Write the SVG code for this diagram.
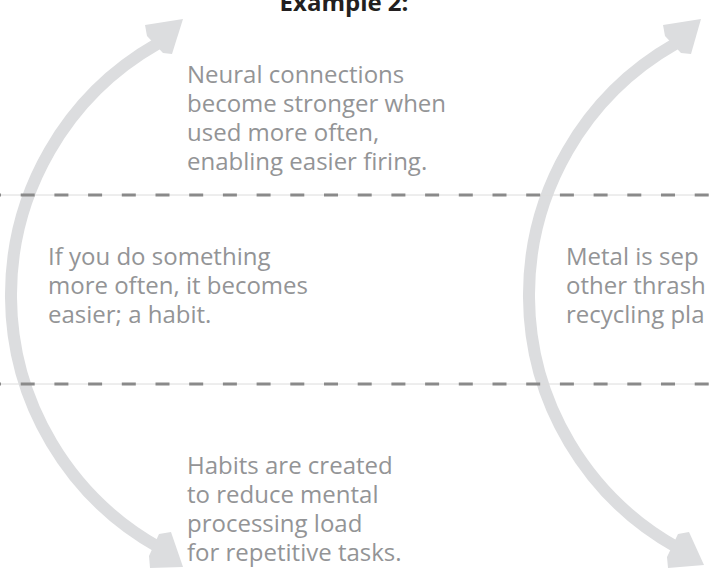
<svg xmlns="http://www.w3.org/2000/svg" width="709" height="582" viewBox="0 0 709 582">
<style>
.t{font-family:"Open Sans","Noto Sans","Liberation Sans",sans-serif;font-size:24px;fill:#939496}
.title{font-family:"Open Sans","Noto Sans","Liberation Sans",sans-serif;font-size:24px;font-weight:700;fill:#231f20}
.arc{fill:none;stroke:#dcdddf;stroke-width:12}
.head{fill:#dcdddf}
.base{stroke:#dcdcdc;stroke-width:1}
.dash{stroke:#8a8a8a;stroke-width:3;stroke-dasharray:14 19.7;stroke-dashoffset:13}
</style>
<rect width="709" height="582" fill="#ffffff"/>
<g id="connectors">
  <path class="arc" d="M160 548 A289 289 0 0 1 157 44"/>
  <polygon class="head" points="145,25 183,19 172,54 163,53 147,36"/>
  <polygon class="head" points="159,534 171,532 183,567 150,568 149,556"/>
  <path class="arc" d="M678 548 A289 289 0 0 1 675 44"/>
  <polygon class="head" points="663,25 701,19 691,54 681,53 665,36"/>
  <polygon class="head" points="678,534 689,532 704,565 668,568 667,557"/>
</g>
<g id="dividers">
  <line class="base" x1="0" y1="195" x2="709" y2="195"/>
  <line class="dash" x1="0" y1="195" x2="709" y2="195"/>
  <line class="base" x1="0" y1="384" x2="709" y2="384"/>
  <line class="dash" x1="0" y1="384" x2="709" y2="384"/>
</g>
<g id="title"><text class="title" x="344" y="11" text-anchor="middle">Example 2:</text></g>
<g id="node-top">
  <text class="t" x="187" y="83">Neural connections</text>
  <text class="t" x="187" y="112">become stronger when</text>
  <text class="t" x="187" y="141">used more often,</text>
  <text class="t" x="187" y="170">enabling easier firing.</text>
</g>
<g id="node-middle-left">
  <text class="t" x="48" y="265">If you do something</text>
  <text class="t" x="48" y="294">more often, it becomes</text>
  <text class="t" x="48" y="323">easier; a habit.</text>
</g>
<g id="node-middle-right">
  <text class="t" x="566" y="265">Metal is sep</text>
  <text class="t" x="566" y="294">other thrash</text>
  <text class="t" x="566" y="323">recycling pla</text>
</g>
<g id="node-bottom">
  <text class="t" x="187" y="474">Habits are created</text>
  <text class="t" x="187" y="503">to reduce mental</text>
  <text class="t" x="187" y="532">processing load</text>
  <text class="t" x="187" y="561">for repetitive tasks.</text>
</g>
</svg>
